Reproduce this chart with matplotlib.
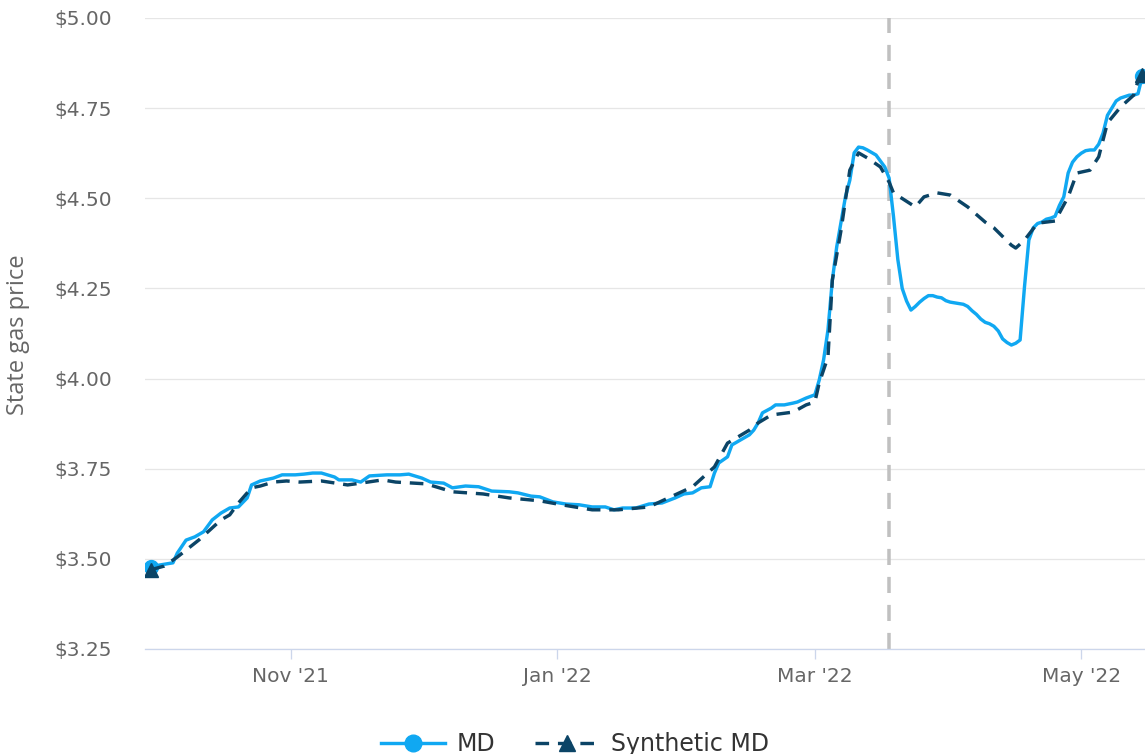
import numpy as np
import pandas as pd
import matplotlib
matplotlib.use('Agg')
import matplotlib.pyplot as plt
import matplotlib.dates as mdates
from matplotlib.lines import Line2D

# day offsets from the first day of data
start = pd.Timestamp('2021-09-30')

md_day = [0, 2, 5, 6, 8, 10, 12, 14, 16, 18, 20, 22, 23, 25, 28, 30, 33, 35, 37, 39,
          42, 43, 46, 48, 50, 54, 57, 59, 62, 64, 67, 69, 72, 75, 78, 82, 84, 87, 89, 92,
          95, 98, 101, 104, 106, 108, 111, 114, 117, 120, 122, 124, 126, 128, 129, 130,
          132, 133, 135, 137, 138, 139, 140, 142, 143, 145, 147, 148, 150, 152, 153, 154,
          155, 156, 157, 159, 160, 161, 162, 163, 164, 166, 168, 169, 170, 171, 172, 173,
          174, 175, 176, 177, 178, 179, 180, 181, 182, 183, 184, 185, 186, 187, 188, 189,
          190, 191, 192, 193, 194, 195, 196, 197, 198, 199, 200, 201, 202, 203, 204, 205,
          206, 207, 208, 209, 210, 211, 212, 213, 214, 215, 216, 217, 218, 219, 220, 221,
          222, 223, 224, 225, 226, 227]
md_price = [3.478, 3.483, 3.489, 3.516, 3.552, 3.561, 3.575, 3.608, 3.627, 3.641, 3.644,
            3.669, 3.705, 3.716, 3.724, 3.733, 3.733, 3.735, 3.738, 3.738, 3.727, 3.719,
            3.719, 3.713, 3.730, 3.733, 3.733, 3.735, 3.724, 3.713, 3.710, 3.697, 3.702,
            3.700, 3.688, 3.686, 3.683, 3.674, 3.672, 3.658, 3.652, 3.650, 3.644, 3.644,
            3.636, 3.641, 3.641, 3.652, 3.655, 3.669, 3.680, 3.683, 3.697, 3.700, 3.738,
            3.766, 3.783, 3.816, 3.830, 3.844, 3.857, 3.877, 3.905, 3.918, 3.927, 3.927,
            3.932, 3.935, 3.946, 3.955, 3.996, 4.052, 4.135, 4.273, 4.365, 4.504, 4.550,
            4.626, 4.642, 4.640, 4.634, 4.620, 4.587, 4.556, 4.450, 4.330, 4.250, 4.215,
            4.190, 4.200, 4.212, 4.222, 4.230, 4.230, 4.226, 4.224, 4.216, 4.212, 4.210,
            4.208, 4.206, 4.200, 4.188, 4.178, 4.165, 4.156, 4.152, 4.145, 4.132, 4.110,
            4.100, 4.093, 4.098, 4.107, 4.254, 4.384, 4.418, 4.430, 4.434, 4.442, 4.445,
            4.450, 4.480, 4.504, 4.570, 4.600, 4.615, 4.625, 4.632, 4.634, 4.634, 4.650,
            4.681, 4.730, 4.750, 4.770, 4.778, 4.782, 4.786, 4.786, 4.790, 4.840]

syn_day = [0, 3, 6, 11, 16, 18, 20, 23, 25, 28, 31, 34, 39, 45, 48, 53, 56, 63, 69, 76,
           82, 89, 94, 101, 107, 114, 119, 124, 129, 132, 137, 139, 142, 147, 150, 152,
           153, 155, 156, 158, 160, 162, 164, 167, 169, 170, 175, 177, 180, 183, 187, 191,
           193, 197, 198, 200, 203, 207, 210, 212, 215, 217, 219, 222, 225, 226, 227]
syn_price = [3.470, 3.480, 3.505, 3.553, 3.608, 3.622, 3.655, 3.697, 3.702, 3.713, 3.716,
             3.713, 3.716, 3.705, 3.710, 3.719, 3.713, 3.708, 3.686, 3.680, 3.669, 3.661,
             3.650, 3.636, 3.636, 3.644, 3.672, 3.700, 3.755, 3.821, 3.857, 3.877, 3.899,
             3.907, 3.927, 3.935, 3.988, 4.060, 4.273, 4.412, 4.578, 4.626, 4.612, 4.587,
             4.545, 4.515, 4.476, 4.504, 4.515, 4.509, 4.476, 4.434, 4.418, 4.370, 4.362,
             4.384, 4.431, 4.437, 4.504, 4.570, 4.578, 4.615, 4.709, 4.753, 4.786, 4.825,
             4.842]

holiday = pd.Timestamp('2022-03-18')
yticks = [3.25, 3.50, 3.75, 4.00, 4.25, 4.50, 4.75, 5.00]
xticks = ['2021-11-01', '2022-01-01', '2022-03-01', '2022-05-01']

md_dates = start + pd.to_timedelta(md_day, unit='D')
syn_dates = start + pd.to_timedelta(syn_day, unit='D')

md_col = '#10a8f2'
syn_col = '#0b4466'
grey = '#666666'
px = 72 / 100  # points per pixel

fig = plt.figure(figsize=(11.45, 7.54), dpi=100)
ax = fig.add_axes([145 / 1145, 105 / 754, 1000 / 1145, 631 / 754])

ax.set_ylim(3.25, 5.00)
ax.set_xlim(start - pd.Timedelta(days=1.4), start + pd.Timedelta(days=227.6))
ax.set_yticks(yticks)
ax.set_yticklabels(['$%.2f' % v for v in yticks])
ax.grid(axis='y', color='#e6e6e6', lw=1.3 * px)
ax.set_axisbelow(True)

ax.axvline(holiday, color='#c0c0c0', lw=3.5 * px, linestyle=(0, (4.6, 3.4)), zorder=1)

ax.plot(md_dates, md_price, color=md_col, lw=3.4 * px, marker='o', ms=10,
        markevery=[0, len(md_day) - 1], zorder=3, solid_joinstyle='round')
ax.plot(syn_dates, syn_price, color=syn_col, lw=3.4 * px, linestyle=(0, (4, 2.6)),
        marker='^', ms=10, markevery=[0, len(syn_day) - 1], zorder=4)

for s in ['top', 'right', 'left']:
    ax.spines[s].set_visible(False)
ax.spines['bottom'].set_color('#ccd6eb')
ax.spines['bottom'].set_linewidth(1.3 * px)

ax.set_xticks(pd.to_datetime(xticks))
ax.xaxis.set_major_formatter(mdates.DateFormatter("%b '%y"))
ax.tick_params(axis='x', length=10 * px, width=1.3 * px, color='#ccd6eb',
               labelcolor=grey, labelsize=14.5, pad=6)
ax.tick_params(axis='y', length=0, labelcolor=grey, labelsize=14.5, pad=33 * px)

fig.text(18 / 1145, 1 - 335 / 754, 'State gas price', rotation=90, color=grey,
         fontsize=17, ha='center', va='center',
         family=['Liberation Sans Narrow', 'Open Sans'])

handles = [Line2D([], [], color=md_col, lw=3.4 * px, marker='o', ms=12),
           Line2D([], [], color=syn_col, lw=3.4 * px, linestyle=(0, (4, 2.6)), marker='^', ms=12)]
fig.legend(handles, ['MD', 'Synthetic MD'], loc='center', bbox_to_anchor=(0.502, 10 / 754),
           ncol=2, frameon=False, fontsize=17, handlelength=2.7, numpoints=1,
           columnspacing=1.7, handletextpad=0.5, labelcolor='#333333')

fig.savefig('out.png', dpi=100)
